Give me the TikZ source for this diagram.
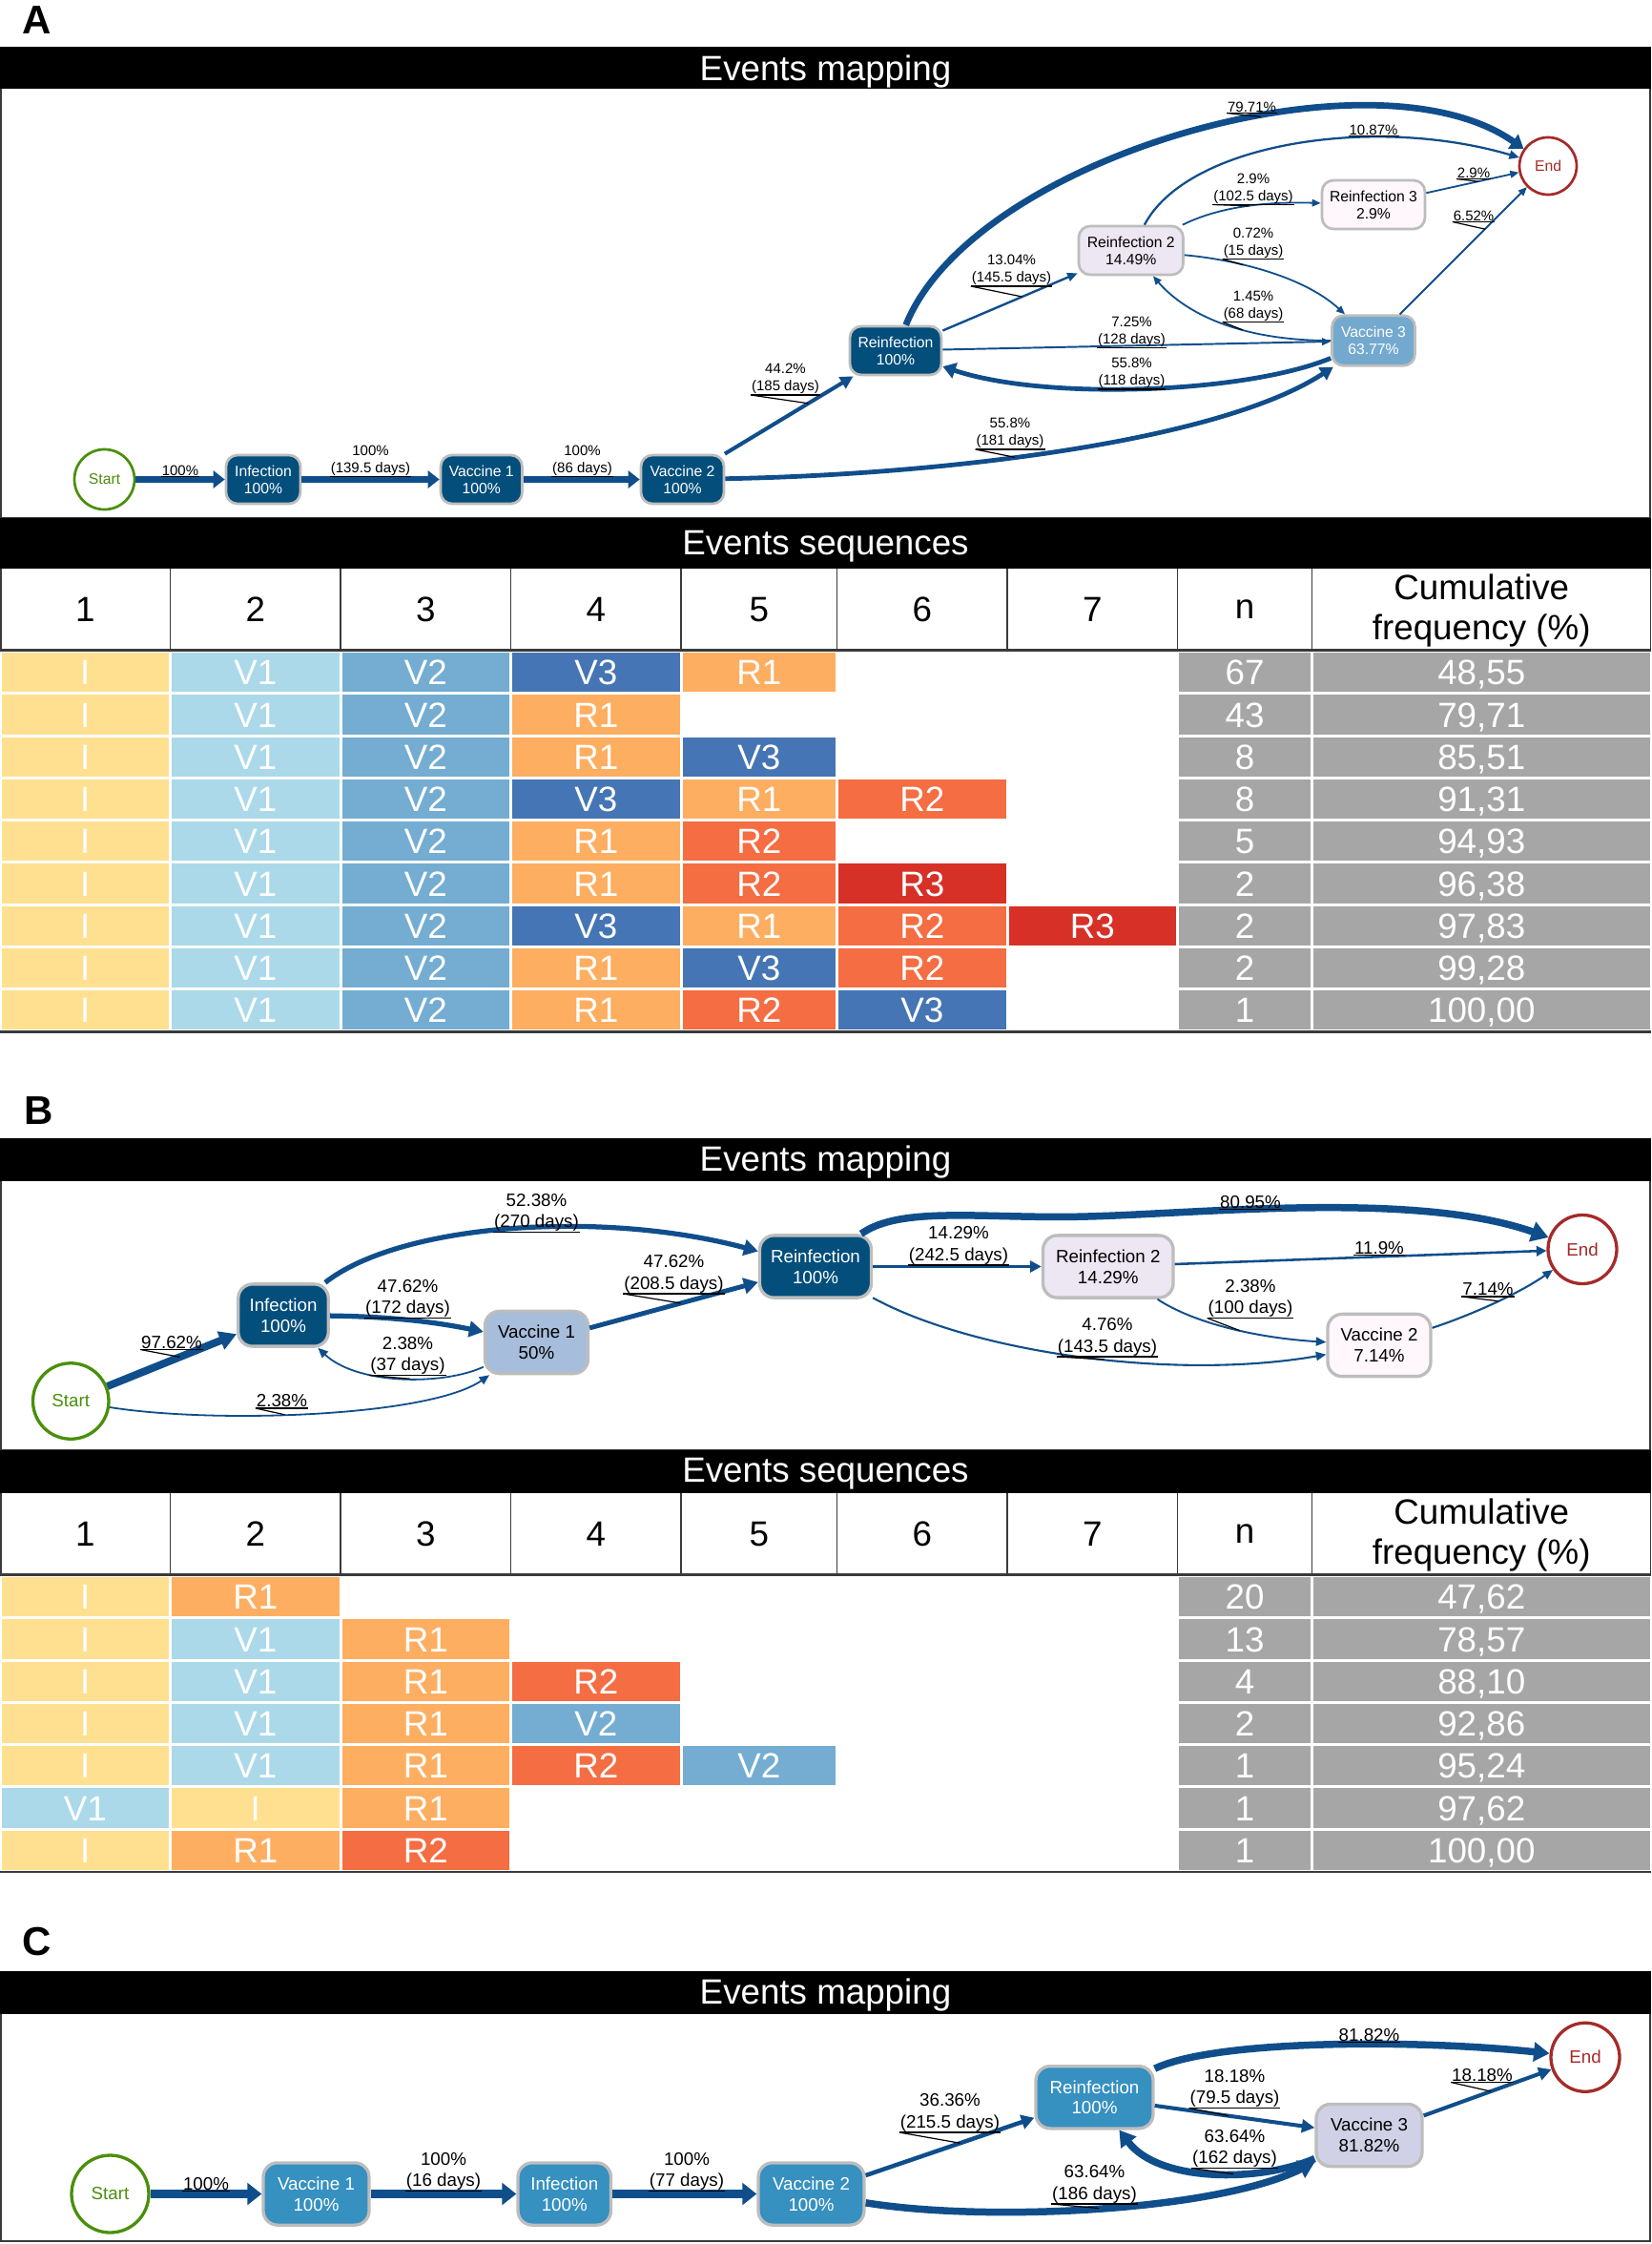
\documentclass[tikz,border=0pt]{standalone}
\usepackage{fontspec}
\setmainfont{Liberation Sans}
\usetikzlibrary{arrows.meta}
\definecolor{eb}{HTML}{104E8B}
\definecolor{pbA}{HTML}{034E7B}
\definecolor{pbB}{HTML}{3690C0}
\definecolor{pbC}{HTML}{74A9CF}
\definecolor{pbD}{HTML}{A6BDDB}
\definecolor{pbE}{HTML}{D0D1E6}
\definecolor{pbF}{HTML}{ECE7F2}
\definecolor{pbG}{HTML}{FFF7FB}
\definecolor{ngray}{HTML}{BDBDBD}
\definecolor{sgreen}{HTML}{4A8F0A}
\definecolor{ered}{HTML}{A52A2A}
\definecolor{cI}{HTML}{FEE090}
\definecolor{cV1}{HTML}{ABD9E9}
\definecolor{cV2}{HTML}{74ADD1}
\definecolor{cV3}{HTML}{4575B4}
\definecolor{cR1}{HTML}{FDAE61}
\definecolor{cR2}{HTML}{F46D43}
\definecolor{cR3}{HTML}{D73027}
\definecolor{cG}{HTML}{A6A6A6}
\definecolor{tline}{HTML}{3A3A3A}
\newcommand\fsNA{\fontsize{10.5}{12}\selectfont}
\newcommand\fsLA{\fontsize{10}{12}\selectfont}
\newcommand\fsNB{\fontsize{12.5}{14.5}\selectfont}
\newcommand\fsLB{\fontsize{12.5}{15}\selectfont}
\newcommand\fsTT{\fontsize{24.5}{28}\selectfont}
\newcommand\fsPL{\fontsize{28}{30}\selectfont\bfseries}
\tikzset{
  conn/.style n args={3}{draw=eb, line width=#1pt, -{Triangle[length=#2pt,width=#3pt]}},
  bxA/.style={rectangle, rounded corners=8pt, draw=ngray, line width=1.8pt, align=center, inner sep=0pt, minimum height=34pt, font=\fsNA},
  bxB/.style={rectangle, rounded corners=10pt, draw=ngray, line width=2.2pt, align=center, inner sep=0pt, minimum height=43.5pt, font=\fsNB},
  stA/.style={circle, draw=sgreen, line width=1.8pt, text=sgreen, inner sep=0pt, fill=white},
  enA/.style={circle, draw=ered, line width=1.8pt, text=ered, inner sep=0pt, fill=white},
  lbA/.style={font=\fsLA, align=center, inner sep=0.5pt, anchor=south},
  lbB/.style={font=\fsLB, align=center, inner sep=0.5pt, anchor=south},
  ul/.style={draw=black, line width=0.8pt},
  ttl/.style={text=white, font=\fsTT, inner sep=0pt},
  hd/.style={font=\fsTT, align=center, inner sep=0pt},
  cellbox/.style={rectangle, inner sep=0pt, minimum height=27.5pt, text=white, font=\fsTT, text height=17.5pt, text depth=0pt},
  frm/.style={draw=tline, line width=1.2pt}
}
\newcommand{\trow}[5]{%
  \foreach \c [count=\k] in {#3} {%
    \pgfmathsetmacro{\xa}{{0,119,238,357,476,585,704}[\k-1]}%
    \pgfmathsetmacro{\xb}{{119,238,357,476,585,704,823}[\k-1]}%
    \pgfmathsetmacro{\cw}{\xb-\xa-2}%
    \pgfmathsetmacro{\cx}{(\xa+\xb)/2}%
    \node[cellbox, fill=c\c, minimum width=\cw] (#1c\k) at (\cx,#2+14.75) {\c};
  }
  \node[cellbox, fill=cG, minimum width=92] (#1n) at (870,#2+14.75) {#4};
  \node[cellbox, fill=cG, minimum width=235] (#1f) at (1035.5,#2+14.75) {#5};
}
\newcommand{\thead}[2]{%
  \foreach \x in {119,238,357,476,585,704,823,917} \draw[tline, line width=1pt] (\x,#2) -- (\x,#2+57);
  \draw[tline, line width=1pt] (0.5,#2) -- (0.5,#2+57);
  \draw[tline, line width=1pt] (1153.5,#2) -- (1153.5,#2+57);
  \draw[tline, line width=2pt] (0,#2+57) -- (1154,#2+57);
  \foreach \t/\x in {1/59.5,2/178.5,3/297.5,4/416.5,5/530.5,6/644.5,7/763.5,n/870}
    \node[hd] (#1h\t) at (\x,#2+29) {\t};
  \node[hd] (#1hcf) at (1035.5,#2+29.5) {Cumulative\\frequency (\%)};
}
\begin{document}
\begin{tikzpicture}[x=1pt,y=-1pt]
\useasboundingbox (0,0) rectangle (1154,1568);
\fill[white] (0,0) rectangle (1154,1568);

% ================= PANEL A =================
\node[font=\fsPL] (pA) at (26,14) {A};
\fill[black] (0,33) rectangle (1154,62);
\node[ttl] (tA1) at (577,50) {Events mapping};
\draw[frm] (0.6,62) -- (0.6,362) -- (1153.4,362) -- (1153.4,62);

\node[stA, minimum size=42pt, font=\fsNA] (aS) at (73,335) {Start};
\node[bxA, fill=pbA, text=white, minimum width=52pt] (aI) at (184,335) {Infection\\100\%};
\node[bxA, fill=pbA, text=white, minimum width=57pt] (aV1) at (336.5,335) {Vaccine 1\\100\%};
\node[bxA, fill=pbA, text=white, minimum width=58pt] (aV2) at (477,335) {Vaccine 2\\100\%};
\node[bxA, fill=pbA, text=white, minimum width=64pt] (aR) at (626,245) {Reinfection\\100\%};
\node[bxA, fill=pbF, text=black, minimum width=73pt] (aR2) at (790.5,175) {Reinfection 2\\14.49\%};
\node[bxA, fill=pbG, text=black, minimum width=72pt] (aR3) at (960,143) {Reinfection 3\\2.9\%};
\node[bxA, fill=pbC, text=white, minimum width=58pt, minimum height=35pt] (aV3) at (960,238) {Vaccine 3\\63.77\%};
\node[enA, minimum size=40pt, font=\fsNA] (aE) at (1082,116) {End};

\draw[conn={4.5}{8}{12}] (aS) -- (aI);
\draw[conn={4.5}{8}{12}] (aI) -- (aV1);
\draw[conn={4.5}{8}{12}] (aV1) -- (aV2);
\draw[conn={2.7}{9}{9}] (aV2) -- coordinate[pos=0.65] (fA4) (aR);
\draw[conn={3.2}{9}{10}] (aV2) .. controls (650,332) and (850,310) .. coordinate[pos=0.43] (fA5) (aV3);
\draw[conn={4.5}{9}{12}] (aR) .. controls (680,110) and (960,30) .. coordinate[pos=0.6] (fA6) (aE);
\draw[conn={1.5}{7}{6}] (aR2) .. controls (830,100) and (960,80) .. (aE);
\draw[conn={1.2}{6}{5}] (aR2) .. controls (855,143) and (890,141) .. coordinate[pos=0.5] (fA8) (aR3);
\draw[conn={1.2}{6}{5}] (aR3) -- coordinate[pos=0.56] (fA9) (aE);
\draw[conn={1.2}{6}{5}] (aV3) -- coordinate[pos=0.67] (fA10) (aE);
\draw[conn={1.2}{6}{5}] (aR2) .. controls (860,181) and (910,192) .. coordinate[pos=0.37] (fA11) (aV3);
\draw[conn={1.2}{6}{5}] (aV3) .. controls (860,238) and (825,215) .. coordinate[pos=0.35] (fA12) (aR2);
\draw[conn={1.3}{6}{5}] (aR) -- (aV3);
\draw[conn={3.2}{9}{11}] (aV3) .. controls (870,275) and (730,280) .. (aR);
\draw[conn={1.6}{7}{6}] (aR) -- coordinate[pos=0.59] (fA15) (aR2);

\node[lbA] (lA1) at (126,333) {100\%};
\node[lbA] (lA2) at (259,333) {100\%\\(139.5 days)};
\node[lbA] (lA3) at (407,333) {100\%\\(86 days)};
\node[lbA] (lA4) at (549,276) {44.2\%\\(185 days)};
\node[lbA] (lA5) at (706,314) {55.8\%\\(181 days)};
\node[lbA] (lA6) at (875,79) {79.71\%};
\node[lbA] (lA7) at (960,95) {10.87\%};
\node[lbA] (lA8) at (876,143) {2.9\%\\(102.5 days)};
\node[lbA] (lA9) at (1030,125) {2.9\%};
\node[lbA] (lA10) at (1030,155) {6.52\%};
\node[lbA] (lA11) at (876,181) {0.72\%\\(15 days)};
\node[lbA] (lA12) at (876,225) {1.45\%\\(68 days)};
\node[lbA] (lA13) at (791,243) {7.25\%\\(128 days)};
\node[lbA] (lA14) at (791,272) {55.8\%\\(118 days)};
\node[lbA] (lA15) at (707,200) {13.04\%\\(145.5 days)};
\foreach \n in {1,...,15} \draw[ul] (lA\n.south west) -- (lA\n.south east);
\foreach \n in {4,5,6,8,9,10,11,12,15} \draw[ul] (lA\n.south west) -- (fA\n);

% table A
\fill[black] (0,362) rectangle (1154,397);
\node[ttl] (tA2) at (577,382) {Events sequences};
\thead{a}{397}
\trow{ar1}{455}{I,V1,V2,V3,R1}{67}{48,55}
\trow{ar2}{484.5}{I,V1,V2,R1}{43}{79,71}
\trow{ar3}{514}{I,V1,V2,R1,V3}{8}{85,51}
\trow{ar4}{543.5}{I,V1,V2,V3,R1,R2}{8}{91,31}
\trow{ar5}{573}{I,V1,V2,R1,R2}{5}{94,93}
\trow{ar6}{602.5}{I,V1,V2,R1,R2,R3}{2}{96,38}
\trow{ar7}{632}{I,V1,V2,V3,R1,R2,R3}{2}{97,83}
\trow{ar8}{661.5}{I,V1,V2,R1,V3,R2}{2}{99,28}
\trow{ar9}{691}{I,V1,V2,R1,R2,V3}{1}{100,00}
\draw[tline, line width=1.5pt] (0,721) -- (1154,721);

% ================= PANEL B =================
\node[font=\fsPL] (pB) at (27,776) {B};
\fill[black] (0,795) rectangle (1154,825);
\node[ttl] (tB1) at (577,812) {Events mapping};
\draw[frm] (0.6,825) -- (0.6,1013) -- (1153.4,1013) -- (1153.4,825);

\node[stA, minimum size=53pt, line width=2.2pt, font=\fsNB] (bS) at (49.5,979) {Start};
\node[bxB, fill=pbA, text=white, minimum width=63pt] (bI) at (198,919) {Infection\\100\%};
\node[bxB, fill=pbD, text=black, minimum width=72pt] (bV1) at (375,938) {Vaccine 1\\50\%};
\node[bxB, fill=pbA, text=white, minimum width=78pt] (bR) at (570,885) {Reinfection\\100\%};
\node[bxB, fill=pbF, text=black, minimum width=91pt] (bR2) at (774.5,885) {Reinfection 2\\14.29\%};
\node[bxB, fill=pbG, text=black, minimum width=72pt] (bV2) at (964,940) {Vaccine 2\\7.14\%};
\node[enA, minimum size=48pt, line width=2.2pt, font=\fsNB] (bE) at (1106,873) {End};

\draw[conn={5.3}{12}{13}] (bS) -- coordinate[pos=0.56] (fB1) (bI);
\draw[conn={3.5}{10}{11}] (bI) .. controls (280,920) and (310,925) .. (bV1);
\draw[conn={1.2}{7}{6}] (bV1) .. controls (310,968) and (250,968) .. coordinate[pos=0.45] (fB3) (bI);
\draw[conn={1.2}{7}{6}] (bS) .. controls (150,995) and (300,990) .. coordinate[pos=0.43] (fB4) (bV1);
\draw[conn={3.5}{10}{11}] (bI) .. controls (280,855) and (420,845) .. (bR);
\draw[conn={3.3}{10}{11}] (bV1) -- coordinate[pos=0.54] (fB6) (bR);
\draw[conn={5}{12}{14}] (bR) .. controls (630,842) and (690,852) .. (760,850) .. controls (840,848) and (990,832) .. (bE);
\draw[conn={2}{8}{8}] (bR) -- (bR2);
\draw[conn={1.7}{7}{7}] (bR2) -- (bE);
\draw[conn={1.3}{7}{6}] (bR2) .. controls (835,925) and (880,935) .. coordinate[pos=0.55] (fB10) (bV2);
\draw[conn={1.4}{7}{6}] (bR) .. controls (680,945) and (820,965) .. coordinate[pos=0.55] (fB11) (bV2);
\draw[conn={1.4}{7}{6}] (bV2) .. controls (1025,920) and (1060,905) .. coordinate[pos=0.55] (fB12) (bE);

\node[lbB] (lB1) at (120,943) {97.62\%};
\node[lbB] (lB2) at (285,921) {47.62\%\\(172 days)};
\node[lbB] (lB3) at (285,961) {2.38\%\\(37 days)};
\node[lbB] (lB4) at (197,984) {2.38\%};
\node[lbB] (lB5) at (375,861) {52.38\%\\(270 days)};
\node[lbB] (lB6) at (471,904) {47.62\%\\(208.5 days)};
\node[lbB] (lB7) at (874,845) {80.95\%};
\node[lbB] (lB8) at (670,884) {14.29\%\\(242.5 days)};
\node[lbB] (lB9) at (964,877) {11.9\%};
\node[lbB] (lB10) at (874,921) {2.38\%\\(100 days)};
\node[lbB] (lB11) at (774,948) {4.76\%\\(143.5 days)};
\node[lbB] (lB12) at (1040,906) {7.14\%};
\foreach \n in {1,...,12} \draw[ul] (lB\n.south west) -- (lB\n.south east);
\foreach \n in {1,3,4,6,10,11,12} \draw[ul] (lB\n.south west) -- (fB\n);

% table B
\fill[black] (0,1013) rectangle (1154,1043);
\node[ttl] (tB2) at (577,1030) {Events sequences};
\thead{b}{1043}
\trow{br1}{1101}{I,R1}{20}{47,62}
\trow{br2}{1130.5}{I,V1,R1}{13}{78,57}
\trow{br3}{1160}{I,V1,R1,R2}{4}{88,10}
\trow{br4}{1189.5}{I,V1,R1,V2}{2}{92,86}
\trow{br5}{1219}{I,V1,R1,R2,V2}{1}{95,24}
\trow{br6}{1248.5}{V1,I,R1}{1}{97,62}
\trow{br7}{1278}{I,R1,R2}{1}{100,00}
\draw[tline, line width=1.5pt] (0,1308) -- (1154,1308);

% ================= PANEL C =================
\node[font=\fsPL] (pC) at (26,1357) {C};
\fill[black] (0,1377) rectangle (1154,1407);
\node[ttl] (tC1) at (577,1394) {Events mapping};
\draw[frm] (0.6,1407) -- (0.6,1566) -- (1153.4,1566) -- (1153.4,1407);

\node[stA, minimum size=54pt, line width=2.2pt, font=\fsNB] (cS) at (77,1533) {Start};
\node[bxB, fill=pbB, text=white, minimum width=74pt] (cV1) at (221,1533) {Vaccine 1\\100\%};
\node[bxB, fill=pbB, text=white, minimum width=65pt] (cI) at (394.5,1533) {Infection\\100\%};
\node[bxB, fill=pbB, text=white, minimum width=74pt] (cV2) at (567,1533) {Vaccine 2\\100\%};
\node[bxB, fill=pbB, text=white, minimum width=82pt] (cR) at (765,1465.5) {Reinfection\\100\%};
\node[bxB, fill=pbE, text=black, minimum width=74pt] (cV3) at (957,1492) {Vaccine 3\\81.82\%};
\node[enA, minimum size=48pt, line width=2.2pt, font=\fsNB] (cE) at (1108,1437.5) {End};

\draw[conn={6}{10}{15}] (cS) -- (cV1);
\draw[conn={6}{10}{15}] (cV1) -- (cI);
\draw[conn={6}{10}{15}] (cI) -- (cV2);
\draw[conn={3}{9}{10}] (cV2) -- coordinate[pos=0.56] (fC4) (cR);
\draw[conn={5}{11}{13}] (cV2) .. controls (690,1553) and (850,1545) .. coordinate[pos=0.5] (fC5) (cV3);
\draw[conn={5}{11}{13}] (cR) .. controls (850,1425) and (990,1425) .. (cE);
\draw[conn={2.7}{9}{9}] (cR) -- coordinate[pos=0.46] (fC7) (cV3);
\draw[conn={5}{11}{13}] (cV3) .. controls (880,1525) and (810,1525) .. coordinate[pos=0.4] (fC8) (cR);
\draw[conn={2.7}{9}{9}] (cV3) -- coordinate[pos=0.525] (fC9) (cE);

\node[lbB] (lC1) at (144,1531) {100\%};
\node[lbB] (lC2) at (310,1531) {100\%\\(16 days)};
\node[lbB] (lC3) at (480,1531) {100\%\\(77 days)};
\node[lbB] (lC4) at (664,1490) {36.36\%\\(215.5 days)};
\node[lbB] (lC5) at (765,1540) {63.64\%\\(186 days)};
\node[lbB] (lC6) at (957,1427) {81.82\%};
\node[lbB] (lC7) at (863,1473) {18.18\%\\(79.5 days)};
\node[lbB] (lC8) at (863,1515) {63.64\%\\(162 days)};
\node[lbB] (lC9) at (1036,1455) {18.18\%};
\foreach \n in {1,...,9} \draw[ul] (lC\n.south west) -- (lC\n.south east);
\foreach \n in {4,5,7,8,9} \draw[ul] (lC\n.south west) -- (fC\n);
\end{tikzpicture}
\end{document}
